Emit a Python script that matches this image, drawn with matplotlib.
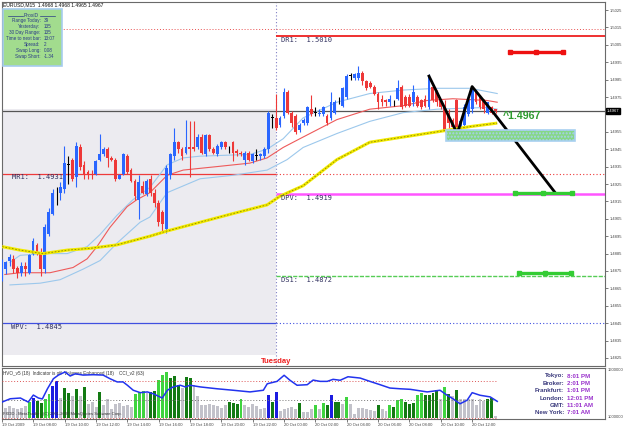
import numpy as np
import matplotlib
matplotlib.use("Agg")
import matplotlib.pyplot as plt
import matplotlib.transforms as mtransforms
from matplotlib.patches import Rectangle
from matplotlib.lines import Line2D

plt.rcParams['font.family'] = ['Liberation Sans', 'DejaVu Sans']

# ---- EURUSD M15 candles (bar 0 = 19 Oct 06:00) ----
opens = [1.4870, 1.4876, 1.4881, 1.4882, 1.4877, 1.4874, 1.4878, 1.4874, 1.4885, 1.4890,
         1.4886, 1.4876, 1.4896, 1.4908, 1.4919, 1.4920, 1.4922, 1.4936, 1.4939, 1.4929,
         1.4946, 1.4936, 1.4932, 1.4931, 1.4931, 1.4939, 1.4942, 1.4945, 1.4940, 1.4939,
         1.4928, 1.4931, 1.4941, 1.4933, 1.4927, 1.4916, 1.4924, 1.4919, 1.4928, 1.4920,
         1.4914, 1.4909, 1.4899, 1.4930, 1.4941, 1.4949, 1.4945, 1.4943, 1.4946, 1.4946,
         1.4946, 1.4952, 1.4942, 1.4953, 1.4945, 1.4942, 1.4946, 1.4949, 1.4946, 1.4949,
         1.4944, 1.4943, 1.4939, 1.4943, 1.4938, 1.4941, 1.4941, 1.4941, 1.4945, 1.4963,
         1.4963, 1.4959, 1.4964, 1.4978, 1.4966, 1.4964, 1.4956, 1.4960, 1.4960, 1.4968,
         1.4966, 1.4965, 1.4965, 1.4964, 1.4963, 1.4966, 1.4973, 1.4970, 1.4975, 1.4987,
         1.4986, 1.4986, 1.4989, 1.4984, 1.4983, 1.4981, 1.4977, 1.4974, 1.4973, 1.4972,
         1.4972, 1.4974, 1.4981, 1.4975, 1.4975, 1.4972, 1.4975, 1.4973, 1.4974, 1.4969,
         1.4981, 1.4978, 1.4973, 1.4970, 1.4965, 1.4962, 1.4973, 1.4956, 1.4959, 1.4965,
         1.4968, 1.4978, 1.4975, 1.4973, 1.4966, 1.4969, 1.4968]
highs = [1.4882, 1.4881, 1.4885, 1.4884, 1.4878, 1.4880, 1.4880, 1.4885, 1.4894, 1.4891,
         1.4888, 1.4902, 1.4911, 1.4922, 1.4923, 1.4926, 1.4947, 1.4941, 1.4940, 1.4949,
         1.4948, 1.4938, 1.4933, 1.4933, 1.4939, 1.4954, 1.4946, 1.4946, 1.4941, 1.4940,
         1.4931, 1.4943, 1.4942, 1.4934, 1.4928, 1.4930, 1.4927, 1.4928, 1.4930, 1.4922,
         1.4916, 1.4910, 1.4936, 1.4943, 1.4957, 1.4950, 1.4946, 1.4962, 1.4961, 1.4961,
         1.4954, 1.4954, 1.4954, 1.4954, 1.4946, 1.4948, 1.4950, 1.4950, 1.4947, 1.4950,
         1.4945, 1.4944, 1.4944, 1.4944, 1.4943, 1.4945, 1.4943, 1.4946, 1.4967, 1.4965,
         1.4977, 1.4964, 1.4980, 1.4979, 1.4967, 1.4965, 1.4960, 1.4963, 1.4970, 1.4976,
         1.4969, 1.4968, 1.4970, 1.4965, 1.4978, 1.4973, 1.4975, 1.4981, 1.4988, 1.4989,
         1.4989, 1.4993, 1.4990, 1.4985, 1.4984, 1.4982, 1.4978, 1.4976, 1.4974, 1.4976,
         1.4973, 1.4985, 1.4982, 1.4976, 1.4977, 1.4982, 1.4976, 1.4974, 1.4976, 1.4988,
         1.4982, 1.4979, 1.4974, 1.4973, 1.4968, 1.4963, 1.4974, 1.4962, 1.4971, 1.4974,
         1.4981, 1.4979, 1.4976, 1.4974, 1.4972, 1.4970, 1.4968]
lows = [1.4869, 1.4873, 1.4878, 1.4874, 1.4871, 1.4872, 1.4872, 1.4873, 1.4884, 1.4884,
        1.4872, 1.4874, 1.4895, 1.4907, 1.4913, 1.4916, 1.4920, 1.4925, 1.4927, 1.4923,
        1.4933, 1.4928, 1.4928, 1.4928, 1.4930, 1.4938, 1.4941, 1.4935, 1.4938, 1.4927,
        1.4928, 1.4930, 1.4931, 1.4926, 1.4916, 1.4905, 1.4919, 1.4918, 1.4918, 1.4912,
        1.4901, 1.4897, 1.4897, 1.4928, 1.4939, 1.4943, 1.4939, 1.4942, 1.4929, 1.4944,
        1.4945, 1.4942, 1.4941, 1.4944, 1.4942, 1.4941, 1.4945, 1.4945, 1.4943, 1.4938,
        1.4941, 1.4941, 1.4936, 1.4938, 1.4937, 1.4939, 1.4939, 1.4940, 1.4943, 1.4957,
        1.4956, 1.4958, 1.4963, 1.4965, 1.4958, 1.4954, 1.4955, 1.4959, 1.4959, 1.4964,
        1.4964, 1.4964, 1.4964, 1.4959, 1.4962, 1.4965, 1.4971, 1.4969, 1.4974, 1.4985,
        1.4985, 1.4985, 1.4982, 1.4979, 1.4980, 1.4976, 1.4968, 1.4970, 1.4970, 1.4970,
        1.4970, 1.4973, 1.4968, 1.4969, 1.4969, 1.4970, 1.4969, 1.4968, 1.4969, 1.4968,
        1.4972, 1.4970, 1.4968, 1.4955, 1.4957, 1.4956, 1.4953, 1.4954, 1.4958, 1.4964,
        1.4966, 1.4971, 1.4968, 1.4966, 1.4965, 1.4965, 1.4966]
closes = [1.4881, 1.4880, 1.4883, 1.4876, 1.4874, 1.4878, 1.4876, 1.4884, 1.4892, 1.4885,
          1.4876, 1.4900, 1.4909, 1.4920, 1.4919, 1.4923, 1.4937, 1.4936, 1.4928, 1.4947,
          1.4935, 1.4930, 1.4930, 1.4930, 1.4938, 1.4942, 1.4945, 1.4940, 1.4939, 1.4928,
          1.4930, 1.4942, 1.4932, 1.4927, 1.4918, 1.4926, 1.4920, 1.4927, 1.4920, 1.4914,
          1.4903, 1.4902, 1.4934, 1.4942, 1.4949, 1.4945, 1.4941, 1.4946, 1.4945, 1.4945,
          1.4952, 1.4943, 1.4953, 1.4945, 1.4943, 1.4947, 1.4949, 1.4946, 1.4946, 1.4943,
          1.4943, 1.4942, 1.4943, 1.4939, 1.4942, 1.4941, 1.4942, 1.4945, 1.4966, 1.4963,
          1.4957, 1.4963, 1.4978, 1.4966, 1.4960, 1.4955, 1.4959, 1.4962, 1.4969, 1.4965,
          1.4966, 1.4966, 1.4969, 1.4960, 1.4972, 1.4972, 1.4973, 1.4980, 1.4987, 1.4987,
          1.4988, 1.4989, 1.4984, 1.4980, 1.4981, 1.4977, 1.4972, 1.4972, 1.4972, 1.4974,
          1.4972, 1.4980, 1.4969, 1.4970, 1.4970, 1.4978, 1.4970, 1.4969, 1.4970, 1.4987,
          1.4973, 1.4972, 1.4969, 1.4956, 1.4960, 1.4958, 1.4955, 1.4961, 1.4969, 1.4973,
          1.4980, 1.4972, 1.4969, 1.4968, 1.4972, 1.4966, 1.4967]

# moving averages (bar index, price)
yel_x = [0.1, 4.7, 10.5, 16.7, 22.5, 29.4, 37.8, 42.2, 50.6, 59.0, 67.7, 71.0, 76.9, 85.5, 93.9, 102.4, 111.1, 119.5, 126.4]
yel_y = [1.4889, 1.4887, 1.4885, 1.4887, 1.4888, 1.4890, 1.4895, 1.4898, 1.4903, 1.4908, 1.4913, 1.4918, 1.4924, 1.4939, 1.4949, 1.4952, 1.4955, 1.4958, 1.4960]
mid_x = [0.8, 4.7, 12.3, 18.2, 21.8, 24.3, 27.6, 32.0, 34.5, 37.8, 42.2, 46.3, 54.9, 63.3, 67.7, 71.8, 76.9, 85.5, 93.9, 102.4, 108.5, 115.1, 123.8, 126.4]
mid_y = [1.4873, 1.4874, 1.4874, 1.4877, 1.4882, 1.4889, 1.4900, 1.4912, 1.4916, 1.4920, 1.4930, 1.4933, 1.4935, 1.4937, 1.4940, 1.4946, 1.4952, 1.4962, 1.4968, 1.4970, 1.4973, 1.4974, 1.4973, 1.4972]
up_x = [2.1, 4.7, 10.5, 16.7, 21.8, 25.1, 29.4, 33.5, 37.8, 42.2, 46.3, 50.6, 63.3, 67.7, 71.8, 76.9, 85.5, 93.9, 102.4, 111.1, 119.5, 126.4]
up_y = [1.4880, 1.4884, 1.4885, 1.4885, 1.4889, 1.4896, 1.4907, 1.4916, 1.4923, 1.4936, 1.4940, 1.4941, 1.4942, 1.4945, 1.4951, 1.4963, 1.4972, 1.4977, 1.4979, 1.4980, 1.4980, 1.4977]
lo_x = [2.1, 9.8, 14.9, 20.7, 25.1, 29.4, 35.3, 37.8, 42.2, 50.6, 59.0, 67.7, 72.8, 76.9, 85.5, 93.9, 102.4, 111.1, 123.8, 126.4]
lo_y = [1.4867, 1.4868, 1.4870, 1.4876, 1.4881, 1.4891, 1.4903, 1.4906, 1.4920, 1.4928, 1.4930, 1.4933, 1.4939, 1.4946, 1.4954, 1.4961, 1.4966, 1.4968, 1.4969, 1.4968]

# pivot levels
sep_bar = 70
dr1, mr1, dpv, ds1, wpv = 1.5010, 1.4931, 1.4919, 1.4872, 1.4845
r_ext = 1.5014
bid = 1.4967
prev_box = (1.4827, 1.4968)

# zigzag + projection
zz_x = [109.0, 116.2, 120.0, 125.8, 141.2]
zz_y = [1.4987, 1.4954, 1.4981, 1.4965, 1.4920]
zone_x = (113.3, 146.2)
zone_y = (1.4950, 1.4956)
tgt_red_x = [129.7, 136.4, 143.2]
tgt_red_y = [1.5001, 1.5001, 1.5001]
tgt_g1_x = [131.0, 138.2, 145.5]
tgt_g1_y = [1.4920, 1.4920, 1.4920]
tgt_g2_x = [132.0, 138.6, 145.2]
tgt_g2_y = [1.4874, 1.4874, 1.4874]

# volumes (ticks) and colour class: g grey, l light green, d dark green, b blue
volumes = [60, 100, 120, 100, 90, 100, 120, 160, 200, 170, 150, 190, 240, 320, 370, 200, 300, 250, 220, 290,
           220, 310, 140, 160, 110, 260, 130, 190, 90, 140, 150, 120, 130, 110, 240, 260, 270, 250, 260, 270,
           380, 430, 460, 400, 420, 330, 300, 410, 400, 330, 220, 130, 130, 140, 130, 120, 100, 130, 160, 150,
           140, 190, 130, 110, 140, 120, 90, 100, 230, 160, 260, 70, 90, 100, 110, 90, 150, 60, 60, 90,
           130, 90, 150, 130, 230, 160, 160, 140, 210, 140, 40, 100, 100, 90, 80, 70, 130, 90, 70, 130,
           110, 180, 190, 160, 140, 150, 230, 250, 230, 230, 250, 280, 190, 310, 240, 220, 280, 190, 190, 190,
           190, 130, 190, 170, 190, 200, 20]
vol_cls = list("ggggggglbd" "dllbbgddgd" "gdgggdgggg" "gggglllgdd" "llldddgddg"
               "ggggggggdd" "dlggggggbd" "bgggggdggg" "lgldbddglg" "ggggggdggl"
               "dlldddlldd" "ddgldgdggg" "ggggddg")

cci_x = [0, 2.1, 4.7, 6.7, 8.0, 9.3, 10.3, 11.6, 13.1, 14.4, 16.1, 17.4, 18.7, 20.7, 23.3, 25.8, 27.6, 29.4,
         30.9, 32.0, 33.5, 35.3, 37.1, 38.6, 40.9, 42.2, 43.7, 45.5, 46.8, 48.0, 50.6, 54.9, 59.0, 63.3, 66.7,
         67.7, 70.2, 72.0, 73.5, 75.3, 77.9, 79.4, 81.2, 83.0, 84.5, 86.3, 88.3, 91.4, 93.9, 96.5, 99.0, 101.6,
         104.2, 108.5, 111.8, 113.6, 115.1, 116.9, 118.7, 120.0, 122.0, 124.6, 126.4]
cci_y = [-14, 4, 8, -14, 24, 8, 3, 58, 112, 132, 149, 127, 139, 132, 134, 132, 112, 95, 95, 77, 50, 37, 41, 31,
         8, 50, 68, 77, 68, 77, 68, 58, 50, 41, 50, 85, 98, 131, 104, 77, 80, 105, 98, 98, 109, 104, 123, 116,
         98, 80, 62, 58, 55, 41, 50, 23, 4, -23, -4, 37, 23, 14, -10]

time_bars = list(range(0, 121, 8))
time_labels = ["19 Oct 2009", "19 Oct 08:00", "19 Oct 10:00", "19 Oct 12:00", "19 Oct 14:00",
               "19 Oct 16:00", "19 Oct 18:00", "19 Oct 20:00", "19 Oct 22:00", "20 Oct 00:00",
               "20 Oct 02:00", "20 Oct 04:00", "20 Oct 06:00", "20 Oct 08:00", "20 Oct 10:00",
               "20 Oct 12:00"]
price_ticks = [1.5025, 1.5015, 1.5005, 1.4995, 1.4985, 1.4975, 1.4955, 1.4945, 1.4935, 1.4925,
               1.4915, 1.4905, 1.4895, 1.4885, 1.4875, 1.4865, 1.4855, 1.4845, 1.4835, 1.4825]

info_labels = ["Range Today:", "Yesterday:", "30 Day Range:", "Time to next bar:", "Spread:", "Swap Long:", "Swap Short:"]
info_values = ["39", "135", "135", "13:07", "2", "0.08", "-1.34"]
zone_names = ["Tokyo:", "Broker:", "Frankfurt:", "London:", "GMT:", "New York:"]
zone_times = ["8:01 PM", "2:01 PM", "1:01 PM", "12:01 PM", "11:01 AM", "7:01 AM"]

# ---- figure ----
W, H = 625.0, 429.0
def fx(px): return px / W
def fy(py): return 1 - py / H

fig = plt.figure(figsize=(6.25, 4.29), dpi=100)
ax = fig.add_axes([fx(2), fy(366), 603 / W, 364 / H])
sub = fig.add_axes([fx(2), fy(419), 603 / W, 51 / H])

XL = (0.08, 153.9)
ax.set_xlim(*XL)
ax.set_ylim(1.48204, 1.50296)
for a in (ax, sub):
    for s in a.spines.values():
        s.set_color('#6a6a6a')
        s.set_linewidth(0.8)

o = np.array(opens); h = np.array(highs); l = np.array(lows); c = np.array(closes)
idx = np.arange(len(o))

# previous day box + separator
ax.add_patch(Rectangle((XL[0], prev_box[0]), sep_bar - XL[0], prev_box[1] - prev_box[0],
                       fc='#ecebf0', ec='none', zorder=0))
ax.axvline(sep_bar, color='#8080c4', lw=0.8, ls=(0, (1, 2)), zorder=1)

# levels
ax.axhline(r_ext, color='#e85050', lw=0.7, ls=(0, (1, 2)), zorder=1)
ax.hlines(dr1, sep_bar, XL[1], color='#ee2020', lw=1.3, zorder=1)
ax.hlines(mr1, XL[0], sep_bar, color='#ee3a3a', lw=0.9, zorder=1)
ax.hlines(mr1, sep_bar, XL[1], color='#ee3a3a', lw=0.8, ls=(0, (1, 2)), zorder=1)
ax.hlines(dpv, sep_bar, XL[1], color='#ff55ff', lw=1.8, zorder=1)
ax.hlines(ds1, sep_bar, XL[1], color='#55cc55', lw=1.0, ls=(0, (3, 1)), zorder=1)
ax.hlines(wpv, XL[0], sep_bar, color='#4050e0', lw=0.9, zorder=1)
ax.hlines(wpv, sep_bar, XL[1], color='#4050e0', lw=0.8, ls=(0, (1, 2)), zorder=1)
ax.axhline(bid, color='#555555', lw=0.9, zorder=2)

lvl_kw = dict(fontsize=5, color='#30305e', family='DejaVu Sans Mono', va='top', zorder=9)
ax.text(71.3, dr1 - 0.00005, "DR1:  1.5010", **lvl_kw)
ax.text(2.6, mr1 - 0.00005, "MR1:  1.4931", **lvl_kw)
ax.text(71.3, dpv - 0.00005, "DPV:  1.4919", **lvl_kw)
ax.text(71.3, ds1 - 0.00005, "DS1:  1.4872", **lvl_kw)
ax.text(2.4, wpv - 0.00005, "WPV:  1.4845", **lvl_kw)

# moving averages
ax.plot(up_x, up_y, color='#9cc8ec', lw=0.8, zorder=2)
ax.plot(lo_x, lo_y, color='#9cc8ec', lw=0.8, zorder=2)
ax.plot(mid_x, mid_y, color='#ee5a5a', lw=0.8, zorder=2)
ax.plot(yel_x, yel_y, color='#f2ea00', lw=2.2, zorder=5, solid_capstyle='butt')
ax.plot(yel_x, yel_y, color='#8a8400', lw=0.6, ls=(0, (2, 2)), zorder=6)

# candles
cols = np.where(c > o, '#2a66ff', np.where(c < o, '#ee3838', '#000000'))
ax.vlines(idx, l, h, colors=cols, lw=0.8, zorder=3)
ax.bar(idx, np.maximum(np.abs(c - o), 0.00004), bottom=np.minimum(o, c), width=0.72,
       color=cols, lw=0, zorder=4)

# pattern / targets
ax.plot(zz_x, zz_y, color='black', lw=2, zorder=7)
ax.add_patch(Rectangle((zone_x[0], zone_y[0]), zone_x[1] - zone_x[0], zone_y[1] - zone_y[0],
                       fc='#86d886', ec='#a8d0f0', lw=1.2, hatch='.....', zorder=8))
ax.plot(tgt_red_x, tgt_red_y, color='#ee1111', lw=2.4, marker='s', ms=3.5, zorder=8)
ax.plot(tgt_g1_x, tgt_g1_y, color='#33cc33', lw=2.4, marker='s', ms=3.5, zorder=8)
ax.plot(tgt_g2_x, tgt_g2_y, color='#33cc33', lw=2.4, marker='s', ms=3.5, zorder=8)
ax.text(127.8, 1.4964, "^1.4967", color='#2e9a2e', fontsize=7.6, fontweight='bold', va='center', zorder=9)

ax.text(sep_bar, 0.013, "Tuesday", transform=mtransforms.blended_transform_factory(ax.transData, ax.transAxes),
        color='#ee2020', fontsize=5.5, fontweight='bold', ha='center', va='center')

# price scale
ax.set_xticks([])
ax.yaxis.tick_right()
ax.set_yticks(price_ticks)
ax.set_yticklabels([f"{p:.4f}" for p in price_ticks])
ax.tick_params(axis='y', length=2, width=0.5, pad=1.5, labelsize=3.0, colors='#444444')
ax.text(1.003, bid, f"{bid:.4f}", transform=mtransforms.blended_transform_factory(ax.transAxes, ax.transData),
        fontsize=3.0, color='white', va='center', ha='left',
        bbox=dict(boxstyle='square,pad=0.25', fc='black', ec='black'), clip_on=False)

# ---- sub window: volumes + CCI ----
sub.set_xlim(*XL)
sub.set_ylim(-10, 500)
vcol = {'g': '#c2c2ca', 'l': '#3fd43f', 'd': '#137a13', 'b': '#1c1ce0'}
sub.bar(idx, volumes, width=0.75, color=[vcol[k] for k in vol_cls], lw=0, zorder=2)
sub.set_yticks([])
sub.set_xticks(time_bars)
sub.set_xticklabels(time_labels, ha='left')
sub.tick_params(axis='x', length=2, width=0.5, pad=1, labelsize=3.0, colors='#444444')

cc = sub.twinx()
cc.set_ylim(-105.4, 170.3)
cc.set_yticks([])
cc.hlines([100, -100], XL[0], 126.4, color='#dd5555', lw=0.7, ls=(0, (1, 2)))
cc.hlines(0, XL[0], 126.4, color='#777777', lw=0.7, ls=(0, (1, 2)))
cc.plot(cci_x, cci_y, color='#2233ee', lw=1.1, zorder=4)
for s in cc.spines.values():
    s.set_visible(False)

sub.text(0.002, 0.9, "HVO_v5 (18)  Indicator is off  Volumes Enhanced (18)    CCI_v2 (63)",
         transform=sub.transAxes, fontsize=3.3, color='#333333', va='center', zorder=5)
sub.text(0.002, 0.09, "FXDD - MetaTrader - (C) 2001-2009 MetaQuotes Software Corp.",
         transform=sub.transAxes, fontsize=3.0, color='#333333', va='center', zorder=5)
sub.text(1.005, 0.96, "1600000", transform=sub.transAxes, fontsize=3.0, color='#444444', va='center')
sub.text(1.005, 0.04, "1000000", transform=sub.transAxes, fontsize=3.0, color='#444444', va='center')

row_y = [376, 383.3, 390.7, 398, 405.3, 412.7]
for name, t, ry in zip(zone_names, zone_times, row_y):
    fig.text(fx(564), fy(ry), name, ha='right', va='center', fontsize=4.4, fontweight='bold', color='#3a3a7c')
    fig.text(fx(567), fy(ry), t, ha='left', va='center', fontsize=4.4, fontweight='bold', color='#9a33cc')

# ---- header and info box ----
fig.text(fx(3), fy(5), "EURUSD,M15  1.4968 1.4968 1.4965 1.4967", fontsize=3.6, va='center', color='#111111')
fig.add_artist(Rectangle((fx(3), fy(65.5)), 59 / W, 56 / H, transform=fig.transFigure,
                         fc='#a2dc8e', ec='#a6ccee', lw=1.2, zorder=10))
fig.text(fx(31.5), fy(15.3), "ProxiD", ha='center', va='center', fontsize=3.6, color='#2a3a86', zorder=11)
fig.add_artist(Line2D([fx(8), fx(23)], [fy(15.5)] * 2, color='#2a3a86', lw=0.5, zorder=11))
fig.add_artist(Line2D([fx(40), fx(55)], [fy(15.5)] * 2, color='#2a3a86', lw=0.5, zorder=11))
for k, (lab, val) in enumerate(zip(info_labels, info_values)):
    yy = fy(20.7 + 6 * k)
    fig.text(fx(40.5), yy, lab, ha='right', va='center', fontsize=3.3, color='#2a3a86', zorder=11)
    fig.text(fx(43.5), yy, val, ha='left', va='center', fontsize=3.3, color='#2a3a86', zorder=11)

fig.savefig("out.png", dpi=100)
